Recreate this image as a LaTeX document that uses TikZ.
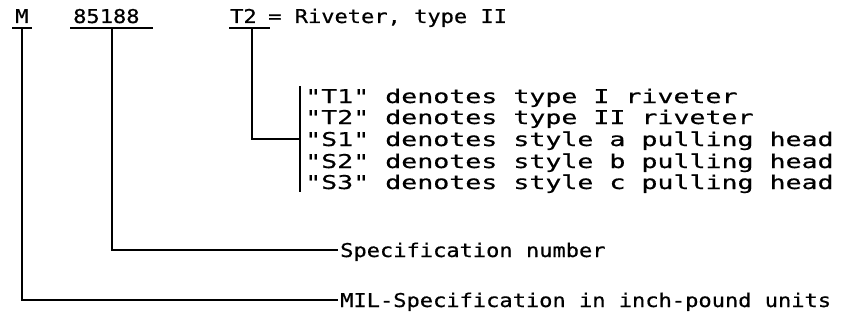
\documentclass[tikz,border=0pt]{standalone}
\usepackage{fontspec}
\newfontfamily\mainf[FakeStretch=1.16, FakeBold=0.6, Ligatures=TeXOff]{DejaVu Sans Mono}
\newfontfamily\listf[FakeStretch=1.40, FakeBold=0.6, Ligatures=TeXOff]{DejaVu Sans Mono}
\begin{document}
\begin{tikzpicture}[x=1pt,y=-1pt,
  txt/.style={inner sep=0pt, anchor=west, text height=14pt, text depth=0pt,
    font=\mainf\fontsize{19}{21}\selectfont},
  ltxt/.style={txt, font=\listf\fontsize{19}{21}\selectfont},
  ln/.style={line width=1.6pt}]
\useasboundingbox (0,0) rectangle (849,324);
% header codes
\node[txt] (M)   at (15,16) {M};
\node[txt] (num) at (73,16) {85188};
\node[txt] (T2)  at (230,16) {T2};
\node[txt] (riv) at (268,16) {= Riveter, type II};
% underlines
\coordinate (mL) at (12,28);  \coordinate (mR) at (32,28);
\coordinate (nL) at (70,28);  \coordinate (nR) at (153,28);
\coordinate (tL) at (229,28); \coordinate (tR) at (270,28);
\draw[ln] (mL) -- (mR);
\draw[ln] (nL) -- (nR);
\draw[ln] (tL) -- (tR);
% list
\node[ltxt] (l1) at (305,96)  {"T1" denotes type I riveter};
\node[ltxt] (l2) at (305,117) {"T2" denotes type II riveter};
\node[ltxt] (l3) at (305,139) {"S1" denotes style a pulling head};
\node[ltxt] (l4) at (305,161) {"S2" denotes style b pulling head};
\node[ltxt] (l5) at (305,182) {"S3" denotes style c pulling head};
\coordinate (bT) at (300,86); \coordinate (bB) at (300,192);
\draw[ln] (bT) -- (bB);
\coordinate (tT) at (252,28);
\draw[ln] (tT) |- (bT |- l3.west);
% spec number
\node[txt] (spec) at (340,250) {Specification number};
\coordinate (nT) at (112,28);
\draw[ln] (nT) |- ([xshift=-2pt]spec.west);
% MIL
\node[txt] (mil) at (340,300) {MIL-Specification in inch-pound units};
\coordinate (mT) at (22,28);
\draw[ln] (mT) |- ([xshift=-2pt]mil.west);
\end{tikzpicture}
\end{document}
